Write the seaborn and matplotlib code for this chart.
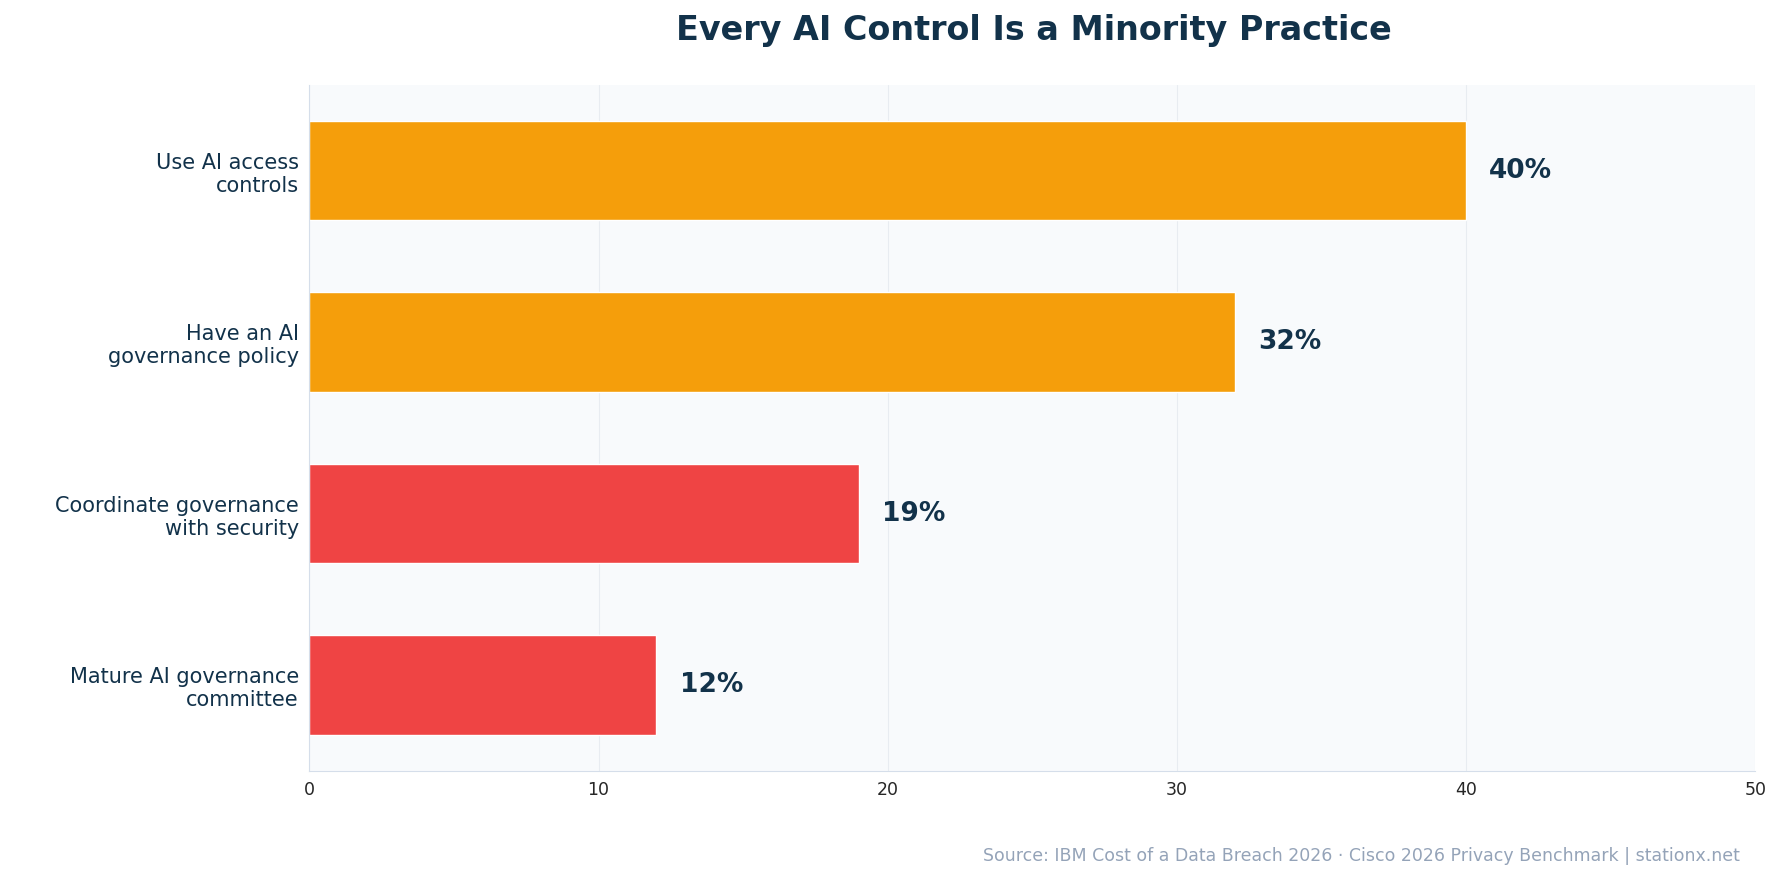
import seaborn as sns
import matplotlib.pyplot as plt
import pandas as pd

# Values
categories = ["Use AI access\ncontrols", "Have an AI\ngovernance policy",
              "Coordinate governance\nwith security", "Mature AI governance\ncommittee"]
values = [40, 32, 19, 12]
colors = ["#F59E0B", "#F59E0B", "#EF4444", "#EF4444"]

df = pd.DataFrame({"practice": categories, "pct": values})

sns.set_style("whitegrid")
plt.rcParams["font.family"] = ["DejaVu Sans"]

fig = plt.figure(figsize=(17.83, 8.84), dpi=100)
ax = fig.add_axes([0.1735, 0.128, 0.811, 0.776])
ax.set_facecolor("#F8FAFC")

sns.barplot(data=df, x="pct", y="practice", hue="practice", palette=colors,
            legend=False, width=0.58, ax=ax, saturation=1)

for i, v in enumerate(values):
    ax.text(v + 0.8, i, f"{v}%", va="center", ha="left", fontsize=19,
            fontweight="bold", color="#12324A")

ax.set_xlim(0, 50)
ax.set_xlabel("")
ax.set_ylabel("")
ax.grid(axis="x", color="#E8ECF1", linewidth=0.8)
ax.grid(axis="y", visible=False)
for s in ["top", "right"]:
    ax.spines[s].set_visible(False)
for s in ["left", "bottom"]:
    ax.spines[s].set_color("#D5DEEA")
ax.tick_params(axis="y", labelsize=15, labelcolor="#12324A", length=4, color="#555555")
ax.tick_params(axis="x", labelsize=12.5, length=4, color="#555555")
for lbl in ax.get_yticklabels():
    lbl.set_horizontalalignment("right")
    lbl.set_multialignment("right")

fig.text(0.58, 0.965, "Every AI Control Is a Minority Practice", ha="center", va="center",
         fontsize=24, fontweight="bold", color="#12324A")
fig.text(0.976, 0.032, "Source: IBM Cost of a Data Breach 2026 · Cisco 2026 Privacy Benchmark | stationx.net",
         ha="right", va="center", fontsize=12.5, color="#94A3B8")

fig.savefig("out.png", dpi=100)
